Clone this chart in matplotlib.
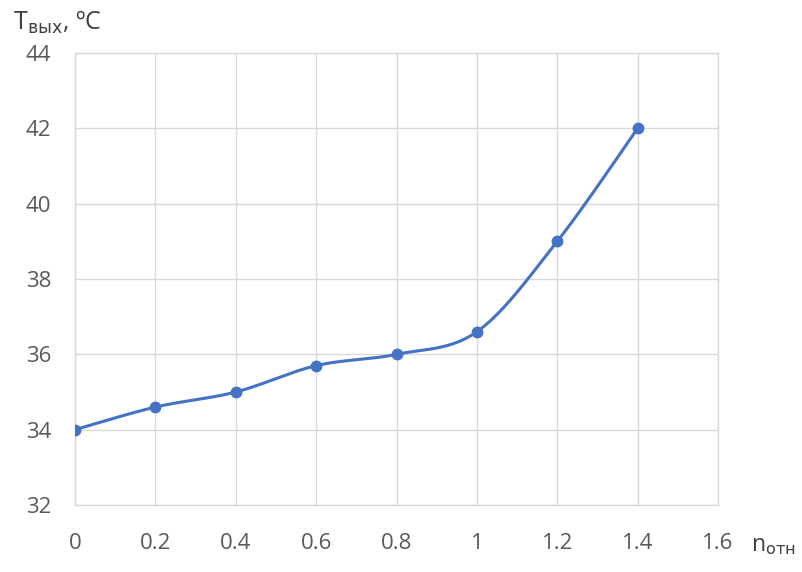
import numpy as np
import matplotlib
matplotlib.use("Agg")
import matplotlib.pyplot as plt

# === Data ===
n_otn = [0, 0.2, 0.4, 0.6, 0.8, 1.0, 1.2, 1.4]
t_out = [34.0, 34.6, 35.0, 35.7, 36.0, 36.6, 39.0, 42.0]
x_ticks = [0, 0.2, 0.4, 0.6, 0.8, 1, 1.2, 1.4, 1.6]
x_tick_labels = ['0', '0.2', '0.4', '0.6', '0.8', '1', '1.2', '1.4', '1.6']
y_ticks = [32, 34, 36, 38, 40, 42, 44]


def excel_smooth(x, y, steps=40):
    # Excel-like smoothed line: cubic Bezier segments, control points from neighbours
    x = np.asarray(x, float)
    y = np.asarray(y, float)
    px = np.concatenate([[x[0]], x, [x[-1]]])
    py = np.concatenate([[y[0]], y, [y[-1]]])
    xs, ys = [], []
    t = np.linspace(0, 1, steps)
    for i in range(1, len(px) - 2):
        p0 = np.array([px[i], py[i]])
        p3 = np.array([px[i + 1], py[i + 1]])
        c1 = p0 + (p3 - np.array([px[i - 1], py[i - 1]])) / 6
        c2 = p3 - (np.array([px[i + 2], py[i + 2]]) - p0) / 6
        b = ((1 - t) ** 3)[:, None] * p0 + (3 * (1 - t) ** 2 * t)[:, None] * c1 \
            + (3 * (1 - t) * t ** 2)[:, None] * c2 + (t ** 3)[:, None] * p3
        xs.extend(b[:, 0])
        ys.extend(b[:, 1])
    return np.array(xs), np.array(ys)


plt.rcParams['font.family'] = ['Open Sans', 'DejaVu Sans']
plt.rcParams['mathtext.fontset'] = 'dejavusans'

fig = plt.figure(figsize=(8.02, 5.72), dpi=100)
ax = fig.add_axes([75 / 802, 1 - 505 / 572, (718 - 75) / 802, (505 - 53) / 572])

line_color = '#4472C4'
sx, sy = excel_smooth(n_otn, t_out)
ax.plot(sx, sy, color=line_color, linewidth=2.2, solid_capstyle='round', zorder=3)
ax.plot(n_otn, t_out, 'o', color=line_color, markersize=7.5, zorder=4)

ax.set_xlim(0, 1.6)
ax.set_ylim(32, 44)
ax.set_xticks(x_ticks)
ax.set_xticklabels(x_tick_labels)
ax.set_yticks(y_ticks)
ax.grid(True, color='#d9d9d9', linewidth=1)
ax.set_axisbelow(True)
for s in ax.spines.values():
    s.set_color('#d9d9d9')
    s.set_linewidth(1)
ax.tick_params(length=0, labelsize=16, colors='#595959')
ax.tick_params(axis='x', pad=20)
ax.tick_params(axis='y', pad=17)

fig.text(13 / 802, 1 - 22 / 572, 'T$_{\\mathrm{вых}}$, ºC', fontsize=18,
         color='#404040', va='center', ha='left')
fig.text(751 / 802, 1 - 545 / 572, 'n$_{\\mathrm{отн}}$', fontsize=16.5,
         color='#404040', va='center', ha='left')

fig.savefig('out.png', dpi=100)
